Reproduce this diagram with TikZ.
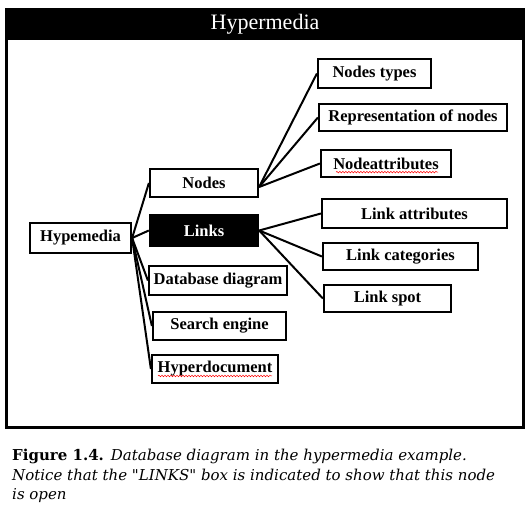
\documentclass[tikz,border=0pt]{standalone}
\usepackage{fontspec}
\setmainfont{Liberation Serif}
\newfontfamily\capfont{DejaVu Serif}
\usetikzlibrary{positioning, decorations.pathmorphing}

\tikzset{
  item/.style={draw, line width=2.2pt, inner sep=0pt,
               font=\fontsize{16.5}{19}\selectfont\bfseries},
  openitem/.style={fill=black, text=white, inner sep=0pt,
               font=\fontsize{16.5}{19}\selectfont\bfseries},
  link/.style={line width=2pt},
  caption/.style={anchor=base west, inner sep=0pt,
               font=\capfont\fontsize{15}{18}\selectfont},
  squiggle/.style={red, line width=0.5pt, decorate,
               decoration={snake, amplitude=0.8pt, segment length=3pt}},
}

\begin{document}
\begin{tikzpicture}[x=1pt, y=-1pt]
  \useasboundingbox (0,0) rectangle (529,512);
  % frame with title bar
  \draw[line width=3pt] (6.5,9) rectangle (523.5,427.5);
  \fill[black] (5,8) rectangle (525,40);
  \node[text=white, font=\fontsize{22}{26}\selectfont] (title) at (265,24.5) {Hypermedia};

  % root and first level
  \node[item, minimum width=101pt, minimum height=30pt] (hm) at (80.5,238) {Hypemedia};
  \node[item, minimum width=108pt, minimum height=28pt] (nd) at (204,183) {Nodes};
  \node[openitem, minimum width=110pt, minimum height=33pt] (lk) at (204,230.5) {Links};
  \node[item, minimum width=138pt, minimum height=29pt] (db) at (218,280.5) {Database diagram};
  \node[item, minimum width=133pt, minimum height=28pt] (se) at (219.5,326) {Search engine};
  \node[item, minimum width=126pt, minimum height=28pt] (hd) at (215,369) {Hyperdocument};

  % children of Nodes
  \node[item, minimum width=113pt, minimum height=29pt] (nt) at (374.5,73.5) {Nodes types};
  \node[item, minimum width=188pt, minimum height=27pt] (rn) at (413,117.5) {Representation of nodes};
  \node[item, minimum width=130pt, minimum height=27pt] (na) at (386,163.5) {Nodeattributes};

  % children of Links
  \node[item, minimum width=185pt, minimum height=29pt] (la) at (414.5,213.5) {Link attributes};
  \node[item, minimum width=155pt, minimum height=27pt] (lc) at (400.5,256.5) {Link categories};
  \node[item, minimum width=127pt, minimum height=27pt] (ls) at (387.5,298.5) {Link spot};

  % spell-check marks
  \draw[squiggle] ([xshift=-50pt,yshift=-3pt]na.base) -- ([xshift=52pt,yshift=-3pt]na.base);
  \draw[squiggle] ([xshift=-57pt,yshift=-3pt]hd.base) -- ([xshift=57pt,yshift=-3pt]hd.base);

  % connectors
  \foreach \c in {nd,lk,db,se,hd}
    \draw[link] (hm.east) -- (\c.west);
  \coordinate (ndout) at ([yshift=-4pt]nd.east);
  \foreach \c in {nt,rn,na}
    \draw[link] (ndout) -- (\c.west);
  \foreach \c in {la,lc,ls}
    \draw[link] (lk.east) -- (\c.west);

  % caption
  \node[caption] (cap1) at (12,460)
    {\textbf{Figure 1.4.}\hspace{7pt}\textit{Database diagram in the hypermedia example.}};
  \node[caption] (cap2) at (12,480)
    {\itshape Notice that the "LINKS" box is indicated to show that this node};
  \node[caption] (cap3) at (12,499)
    {\itshape is open};
\end{tikzpicture}
\end{document}
